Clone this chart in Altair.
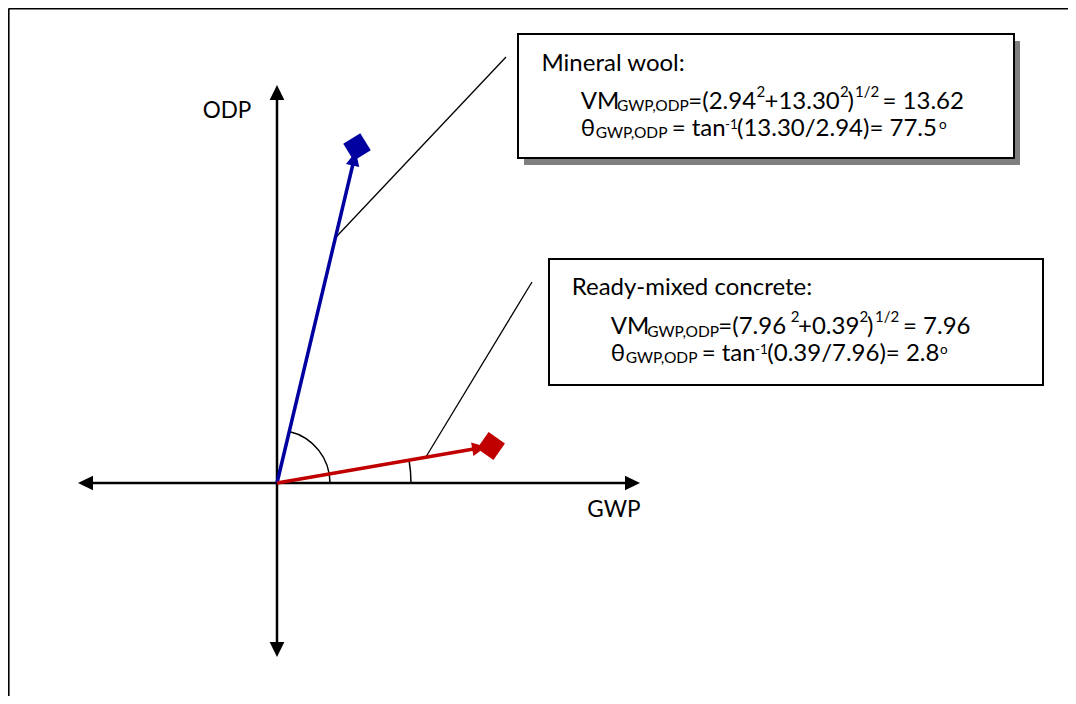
import math
import altair as alt
import pandas as pd

# ---------------- data (diagram units: 1 unit = 20 px, origin where axes cross) ----------------
X_DOMAIN = [-13.45, 39.55]
Y_DOMAIN = [-10.65, 23.75]
PX = 20.0  # pixels per unit

axis_labels = ["GWP", "ODP"]
axis_neg_tip = [-9.95, -8.7]
axis_pos_tip = [18.15, 19.9]
axis_label_x = [15.515, -3.715]
axis_label_y = [-1.715, 18.235]

vec_names = ["Mineral wool", "Ready-mixed concrete"]
vec_gwp = [4.0, 10.7]
vec_odp = [16.8, 1.85]
vec_colors = ["#0000A0", "#C00000"]
arc_radius_px = [53, 134]
leader_t = [0.73, 0.695]
leader_end_x = [11.45, 12.75]
leader_end_y = [21.3, 10.05]

box_x1 = [12.05, 13.6]
box_x2 = [36.85, 38.3]
box_y1 = [22.45, 11.2]
box_y2 = [16.25, 4.9]
box_shadow = [True, False]

# text runs per box (x positions in px)
titles = ["Mineral wool:", "Ready-mixed concrete:"]
line2_runs = [
    ["VM", "GWP,ODP", "=(2.94", "2", "+13.30", "2", ")", "1/2", "= 13.62"],
    ["VM", "GWP,ODP", "=(7.96", "2", "+0.39", "2", ")", "1/2", "= 7.96"],
]
line2_roles = ["n", "sub", "n", "sup", "n", "sup", "n", "sup", "n"]
line2_x = [
    [580.7, 617.0, 688.3, 756.5, 764.5, 840.0, 847.5, 855.0, 882.5],
    [610.7, 647.3, 718.3, 790.7, 798.0, 859.5, 867.0, 875.0, 903.0],
]
line3_runs = [
    ["θ", "GWP,ODP", "= tan", "-1", "(13.30/2.94)= 77.5", "o"],
    ["θ", "GWP,ODP", "= tan", "-1", "(0.39/7.96)= 2.8", "o"],
]
line3_roles = ["n", "sub", "n", "sup", "n", "sup"]
line3_x = [
    [580.7, 595.7, 671.7, 725.0, 737.0, 939.0],
    [610.7, 625.7, 701.7, 755.0, 767.3, 940.0],
]
title_x = [541.5, 571.7]
baselines = [[70.7, 108.5, 135.7], [295.0, 334.0, 360.7]]

FONT = "Lato"
MAIN_FS = 24
SUB_FS = 15.5
SUP_FS = [15, 13.5]  # line 2, line 3
SUB_DROP = 2.5
SUP_RAISE = [12, 7]  # line 2, line 3

# ---------------- build tables ----------------
def ux(px):
    return (px - 277.0) / PX

def uy(py):
    return (483.0 - py) / PX

xs = alt.Scale(domain=X_DOMAIN, nice=False, zero=False)
ys = alt.Scale(domain=Y_DOMAIN, nice=False, zero=False)

def X(f="x"):
    return alt.X(f + ":Q", scale=xs, axis=None)

def Y(f="y"):
    return alt.Y(f + ":Q", scale=ys, axis=None)

# frame
frame = pd.DataFrame({
    "x": [X_DOMAIN[0] + 0.03, X_DOMAIN[0] + 0.03],
    "y": [Y_DOMAIN[1] - 0.03, Y_DOMAIN[1] - 0.03],
    "x2": [X_DOMAIN[1], X_DOMAIN[0] + 0.03],
    "y2": [Y_DOMAIN[1] - 0.03, Y_DOMAIN[0]],
})
frame_layer = alt.Chart(frame).mark_rule(color="black", strokeWidth=2).encode(
    x=X(), y=Y(), x2="x2:Q", y2="y2:Q")

# axes lines
head_len = 15 / PX
axes_rows = []
heads = []
for i, name in enumerate(axis_labels):
    if name == "GWP":
        axes_rows.append({"x": axis_neg_tip[i] + head_len * 0.8, "y": 0, "x2": axis_pos_tip[i] - head_len * 0.8, "y2": 0})
        heads.append({"x": axis_pos_tip[i] - head_len / 2, "y": 0, "ang": 0})
        heads.append({"x": axis_neg_tip[i] + head_len / 2, "y": 0, "ang": 180})
    else:
        axes_rows.append({"x": 0, "y": axis_neg_tip[i] + head_len * 0.8, "x2": 0, "y2": axis_pos_tip[i] - head_len * 0.8})
        heads.append({"x": 0, "y": axis_pos_tip[i] - head_len / 2, "ang": 270})
        heads.append({"x": 0, "y": axis_neg_tip[i] + head_len / 2, "ang": 90})
axes_layer = alt.Chart(pd.DataFrame(axes_rows)).mark_rule(color="black", strokeWidth=2.5).encode(
    x=X(), y=Y(), x2="x2:Q", y2="y2:Q")
ARROW = "M1,0L-1,-0.98L-1,0.98Z"
heads_layer = alt.Chart(pd.DataFrame(heads)).mark_point(
    shape=ARROW, filled=True, color="black", opacity=1, size=225, strokeWidth=0).encode(
    x=X(), y=Y(), angle=alt.Angle("ang:Q", scale=None))

axis_text = pd.DataFrame({"t": axis_labels, "x": axis_label_x, "y": axis_label_y})
axis_text_layer = alt.Chart(axis_text).mark_text(
    font=FONT, fontSize=22.5, align="left", baseline="alphabetic", color="black").encode(
    x=X(), y=Y(), text="t:N")

# vectors
vec_rows, vhead_rows, diam_rows, lead_rows = [], [], [], []
arc_layers = []
for i, n in enumerate(vec_names):
    gx, gy = vec_gwp[i], vec_odp[i]
    phi = math.atan2(gy, gx)
    vec_rows.append({"n": n, "x": 0, "y": 0, "x2": gx, "y2": gy})
    back = 12 / PX
    vhead_rows.append({"n": n, "x": gx - back * math.cos(phi), "y": gy - back * math.sin(phi),
                       "ang": (360 - math.degrees(phi)) % 360})
    diam_rows.append({"n": n, "x": gx, "y": gy, "ang": (360 - math.degrees(phi)) % 360})
    t = leader_t[i]
    lead_rows.append({"x": gx * t, "y": gy * t, "x2": leader_end_x[i], "y2": leader_end_y[i]})
    arc_layers.append(
        alt.Chart(pd.DataFrame({"x": [0], "y": [0]})).mark_arc(
            theta=math.pi / 2 - phi, theta2=math.pi / 2,
            radius=arc_radius_px[i], radius2=arc_radius_px[i] - 0.01,
            fill=None, filled=False, stroke="black", strokeWidth=1.5).encode(x=X(), y=Y())
    )

cscale = alt.Scale(domain=vec_names, range=vec_colors)
vec_layer = alt.Chart(pd.DataFrame(vec_rows)).mark_rule(strokeWidth=3.5).encode(
    x=X(), y=Y(), x2="x2:Q", y2="y2:Q", color=alt.Color("n:N", scale=cscale, legend=None))
vhead_layer = alt.Chart(pd.DataFrame(vhead_rows)).mark_point(
    shape=ARROW, filled=True, opacity=1, size=196, strokeWidth=0).encode(
    x=X(), y=Y(), angle=alt.Angle("ang:Q", scale=None),
    color=alt.Color("n:N", scale=cscale, legend=None))
diam_layer = alt.Chart(pd.DataFrame(diam_rows)).mark_point(
    shape="diamond", filled=True, opacity=1, size=800, strokeWidth=0).encode(
    x=X(), y=Y(), angle=alt.Angle("ang:Q", scale=None),
    color=alt.Color("n:N", scale=cscale, legend=None))
lead_layer = alt.Chart(pd.DataFrame(lead_rows)).mark_rule(color="black", strokeWidth=1.3).encode(
    x=X(), y=Y(), x2="x2:Q", y2="y2:Q")

# boxes
box_df = pd.DataFrame({"x": box_x1, "x2": box_x2, "y": box_y1, "y2": box_y2, "s": box_shadow})
sh = box_df[box_df["s"]].copy()
sh["x"] = sh["x"] + 6 / PX
sh["x2"] = sh["x2"] + 6 / PX
sh["y"] = sh["y"] - 7 / PX
sh["y2"] = sh["y2"] - 7 / PX
shadow_layer = alt.Chart(sh).mark_rect(color="#7f7f7f").encode(x=X(), x2="x2:Q", y=Y(), y2="y2:Q")
box_layer = alt.Chart(box_df).mark_rect(fill="white", stroke="black", strokeWidth=2).encode(
    x=X(), x2="x2:Q", y=Y(), y2="y2:Q")

# texts
trows = []
for b in range(2):
    bl = baselines[b]
    trows.append({"t": titles[b], "x": ux(title_x[b]), "y": uy(bl[0]), "fs": MAIN_FS})
    for li, (runs, roles, xsx, base) in enumerate(((line2_runs[b], line2_roles, line2_x[b], bl[1]),
                                                   (line3_runs[b], line3_roles, line3_x[b], bl[2]))):
        for t, r, px in zip(runs, roles, xsx):
            if r == "n":
                yy, fs = base, MAIN_FS
            elif r == "sub":
                yy, fs = base + SUB_DROP, SUB_FS
            else:
                yy, fs = base - SUP_RAISE[li], SUP_FS[li]
            trows.append({"t": t, "x": ux(px), "y": uy(yy), "fs": fs})
text_layer = alt.Chart(pd.DataFrame(trows)).mark_text(
    font=FONT, align="left", baseline="alphabetic", color="black").encode(
    x=X(), y=Y(), text="t:N", size=alt.Size("fs:Q", scale=None))

chart = alt.layer(
    frame_layer, axes_layer, heads_layer, axis_text_layer,
    *arc_layers, lead_layer, vec_layer, vhead_layer, diam_layer,
    shadow_layer, box_layer, text_layer,
).properties(
    width=1060, height=688, autosize=alt.AutoSizeParams(type="none"), padding=0,
    background="white",
).configure_view(stroke=None)

chart.save("out.html", embed_options={"renderer": "svg", "actions": False})
